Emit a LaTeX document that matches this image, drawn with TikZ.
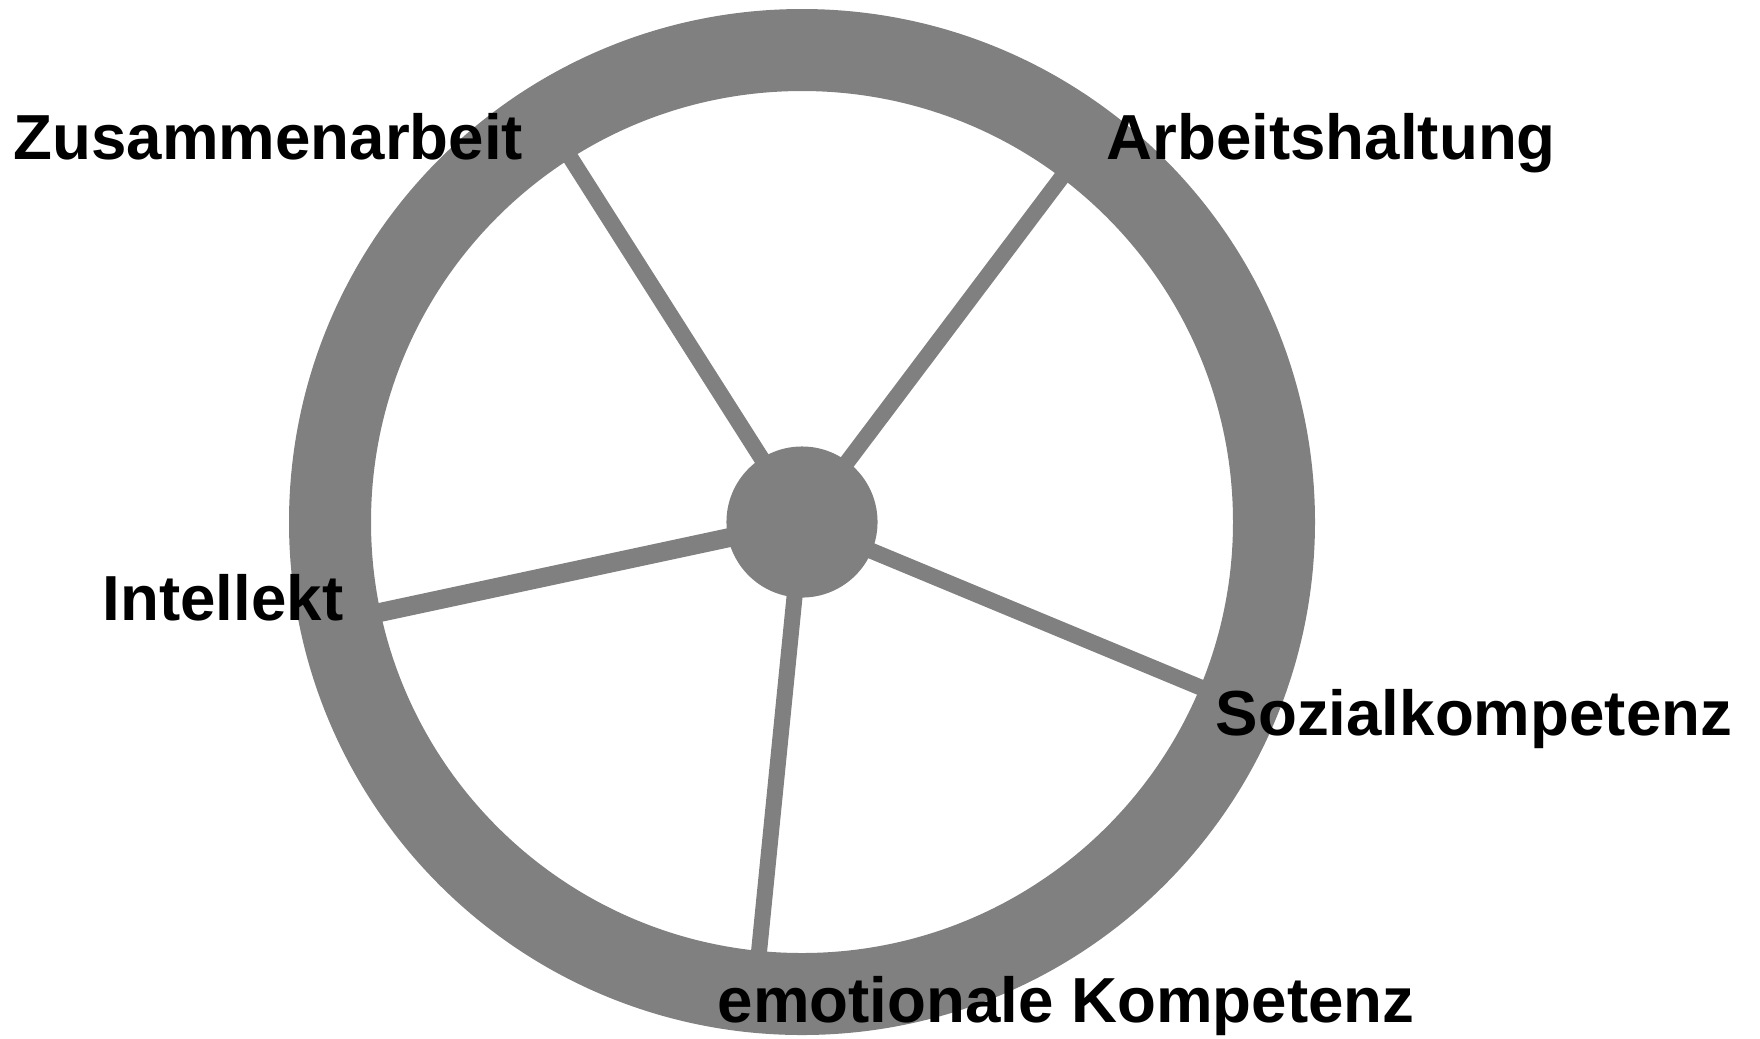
\documentclass[tikz,border=0pt]{standalone}
\usepackage{fontspec}
\setmainfont{Liberation Sans}
\usetikzlibrary{calc}
\definecolor{wheelgray}{RGB}{128,128,128}
\tikzset{
  spoke/.style={draw=wheelgray, line width=0.16cm},
  label/.style={anchor=base west, inner sep=0pt, font=\bfseries\fontsize{18.1}{22}\selectfont}
}

\begin{document}
\begin{tikzpicture}[x=0.01cm, y=-0.01cm]
  \useasboundingbox (0,0) rectangle (1760,1038);
  \coordinate (M) at (802,522);
  % Enden der Speichen im Ring
  \coordinate (Zr) at (549,124);
  \coordinate (Ar) at (1086,145);
  \coordinate (Ir) at (340,621);
  \coordinate (Sr) at (1238,703);
  \coordinate (Er) at (755,992);

  % Ring
  \fill[wheelgray, even odd rule] (M) circle (513) (M) circle (431);

  % Nabe und Speichen
  \node[circle, fill=wheelgray, inner sep=0pt, minimum size=1.51cm] (hub) at (M) {};
  \draw[spoke] (hub.center) -- (Zr);
  \draw[spoke] (hub.center) -- (Ar);
  \draw[spoke, line width=0.19cm] (hub.center) -- (Ir);
  \draw[spoke] (hub.center) -- (Sr);
  \draw[spoke] (hub.center) -- (Er);

  \node[label] (zus) at (13,159) {Zusammenarbeit};
  \node[label] (arb) at (1106,159) {Arbeitshaltung};
  \node[label] (int) at (102,620) {Intellekt};
  \node[label] (soz) at (1215,735) {Sozialkompetenz};
  \node[label] (emo) at (717,1022) {emotionale Kompetenz};
\end{tikzpicture}
\end{document}
